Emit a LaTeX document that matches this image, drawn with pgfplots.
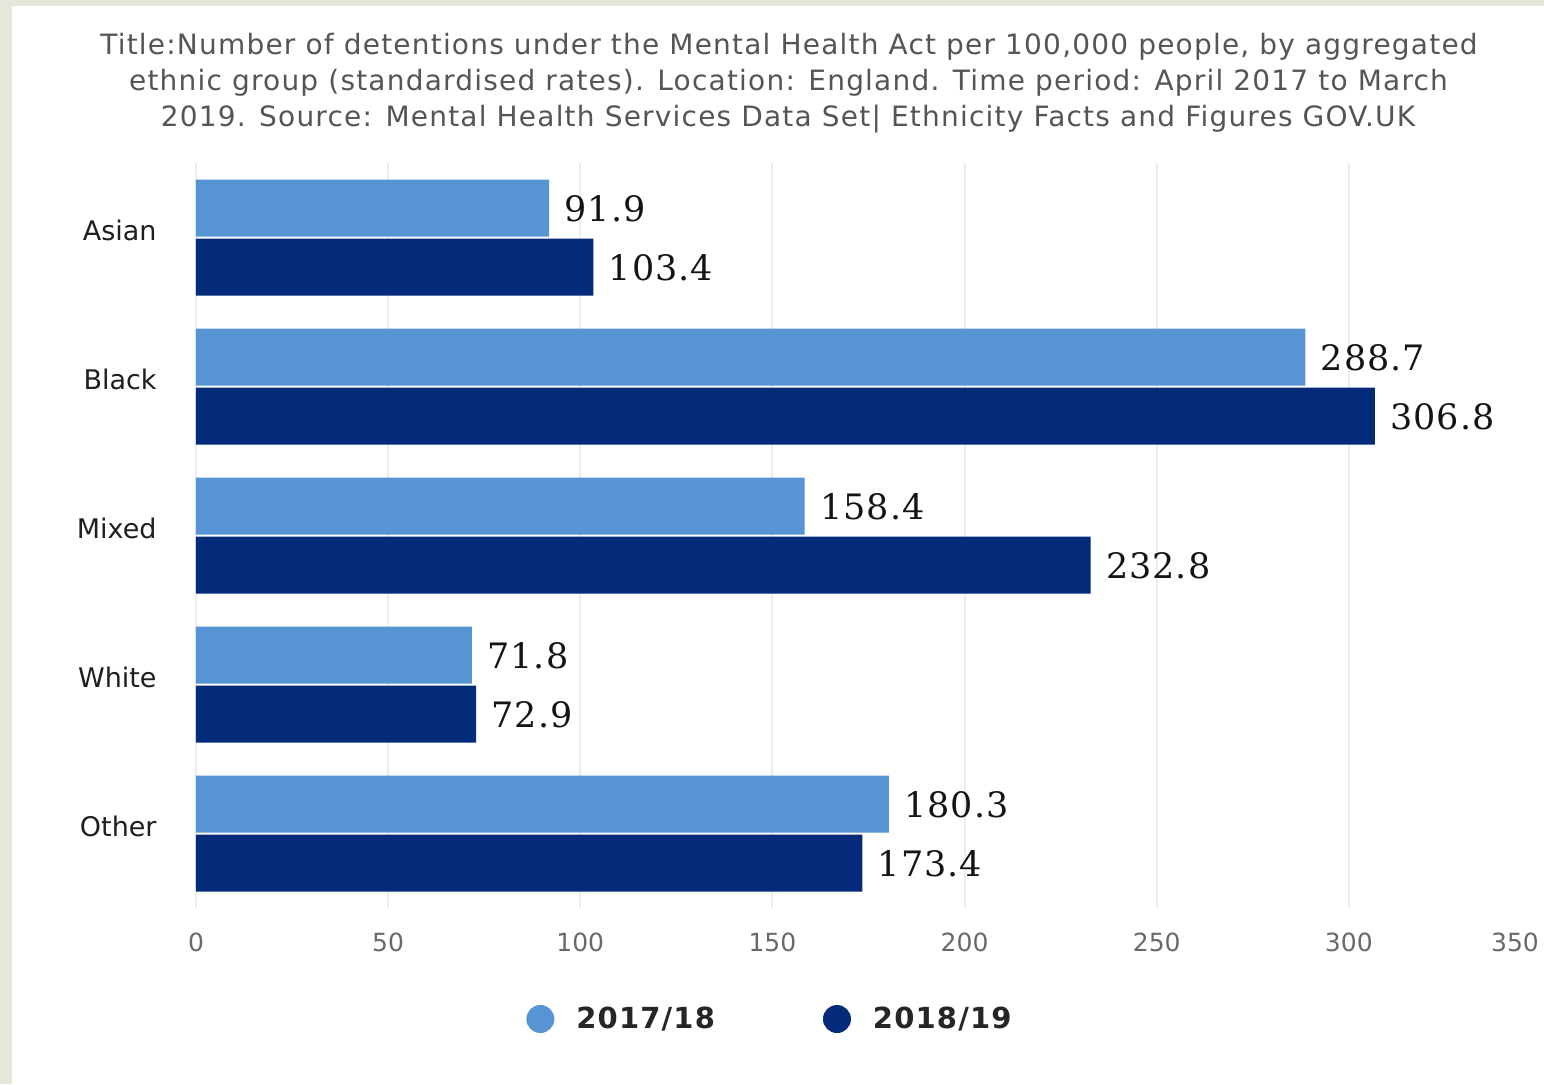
\documentclass[border=0pt]{standalone}
\usepackage{pgfplots}
\pgfplotsset{compat=1.18}
\usepackage{fontspec}
\setmainfont{DejaVu Sans}
\newfontfamily\serifval[LetterSpace=3]{DejaVu Serif}
\newfontfamily\titlefont[LetterSpace=4.3]{DejaVu Sans}
\newfontfamily\legfont[LetterSpace=4]{DejaVu Sans Bold}
\definecolor{lightbar}{RGB}{86,148,211}
\definecolor{darkbar}{RGB}{3,43,121}
\definecolor{framecol}{RGB}{230,230,220}
\definecolor{titlegrey}{RGB}{85,85,85}
\definecolor{tickgrey}{RGB}{105,105,105}
\definecolor{gridgrey}{RGB}{236,236,236}
\begin{document}
\begin{tikzpicture}
\useasboundingbox (-98pt,-88pt) rectangle (674pt,454pt);
\fill[framecol] (-98pt,-88pt) rectangle (674pt,454pt);
\fill[white] (-92pt,-88pt) rectangle (674pt,451pt);
\begin{axis}[
  at={(0pt,0pt)}, anchor=south west,
  scale only axis, width=672.5pt, height=372.5pt,
  xmin=0, xmax=350, ymin=-0.5, ymax=4.5,
  xbar, bar width=28.5pt, bar shift=0pt,
  axis line style={draw=none},
  xtick={0,50,...,300},
  extra x ticks={350},
  extra x tick style={grid=none, xticklabel style={xshift=-13pt}},
  ytick={0,1,2,3,4},
  yticklabels={Other,White,Mixed,Black,Asian},
  major tick length=0pt,
  xmajorgrids, ymajorgrids=false,
  grid style={gridgrey, line width=1pt},
  /pgf/number format/assume math mode=true,
  xticklabel style={font=\fontsize{12.5}{14}\selectfont, text=tickgrey, anchor=north, inner sep=0pt, yshift=-12.5pt},
  yticklabel style={font=\fontsize{13.5}{15}\selectfont, text=black!88, anchor=east, inner sep=0pt, xshift=-19.5pt, yshift=3.5pt},
  point meta=x,
  nodes near coords={\pgfmathprintnumber[fixed,fixed zerofill,precision=1]{\pgfplotspointmeta}},
  nodes near coords style={font=\serifval\fontsize{17.5}{20}\selectfont, text=black!92, inner sep=0pt, anchor=west, xshift=7.5pt, yshift=-0.5pt},
  legend style={at={(0.4275,-0.149)}, anchor=center, draw=none, fill=none,
    legend columns=2, font=\legfont\fontsize{14.5}{16}\selectfont, text=black!85,
    /tikz/every odd column/.append style={column sep=9pt},
    /tikz/every even column/.append style={column sep=52pt}},
]
\addplot[fill=lightbar, draw=none,
  legend image code/.code={\fill[lightbar] (0pt,0pt) circle (7pt);}]
  coordinates {(180.3,0.198) (71.8,1.198) (158.4,2.198) (288.7,3.198) (91.9,4.198)};
\addplot[fill=darkbar, draw=none,
  legend image code/.code={\fill[darkbar] (0pt,0pt) circle (7pt);}]
  coordinates {(173.4,-0.198) (72.9,0.802) (232.8,1.802) (306.8,2.802) (103.4,3.802)};
\legend{2017/18, 2018/19}
\end{axis}
\node[anchor=base, font=\titlefont\fontsize{14}{16}\selectfont, text=titlegrey, inner sep=0pt] at (296.5pt,426.5pt) {Title:Number of detentions under the Mental Health Act per 100,000 people, by aggregated};
\node[anchor=base, font=\titlefont\fontsize{14}{16}\selectfont, text=titlegrey, inner sep=0pt] at (296.25pt,408.5pt) {ethnic group (standardised rates). Location: England. Time period: April 2017 to March};
\node[anchor=base, font=\titlefont\fontsize{14}{16}\selectfont, text=titlegrey, inner sep=0pt] at (296pt,390.5pt) {2019. Source: Mental Health Services Data Set| Ethnicity Facts and Figures GOV.UK};
\end{tikzpicture}
\end{document}
